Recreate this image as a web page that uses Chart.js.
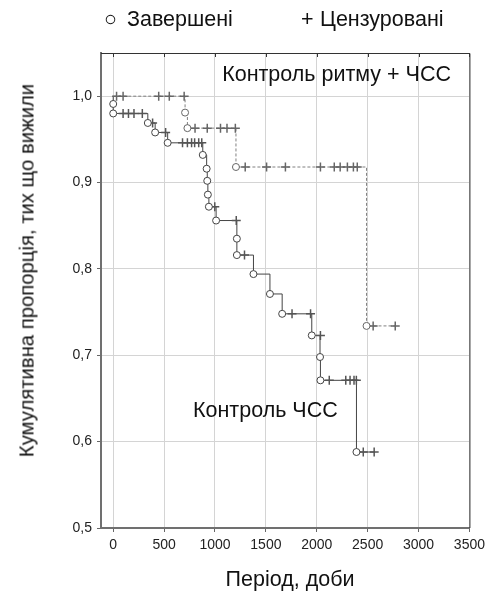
<!DOCTYPE html>
<html>
<head>
  <meta charset="UTF-8">
  <title>Кумулятивна пропорція, тих що вижили</title>
  <script src="https://cdn.jsdelivr.net/npm/chart.js"></script>
  <style>
    body { margin: 0; background: #fff; font-family: "Liberation Sans", Arial, sans-serif; }
    #wrap { position: relative; width: 490px; height: 595px; }
    .lbl { position: absolute; color: #111; white-space: nowrap; line-height: 21px; font-size: 21.5px; }
    #ytitle { left: -173px; top: 260px; width: 400px; text-align: center; font-size: 20.3px;
              transform: rotate(-90deg); }
  </style>
</head>
<body>
  <div id="wrap">
    <canvas id="km" width="490" height="595"></canvas>
    <div class="lbl" style="left:104px; top:9px;">○</div>
    <div class="lbl" style="left:127px; top:9px;">Завершені</div>
    <div class="lbl" style="left:301px; top:9px;">+</div>
    <div class="lbl" style="left:320px; top:9px;">Цензуровані</div>
    <div class="lbl" style="right:39px; top:64px;">Контроль ритму + ЧСС</div>
    <div class="lbl" style="left:193px; top:400px;">Контроль ЧСС</div>
    <div class="lbl" style="left:0; width:580px; text-align:center; top:569px;">Період, доби</div>
    <div class="lbl" id="ytitle">Кумулятивна пропорція, тих що вижили</div>
  </div>

  <script>
    // Axis ticks
    const xTicks = [0, 500, 1000, 1500, 2000, 2500, 3000, 3500];
    const yTicks = [0.5, 0.6, 0.7, 0.8, 0.9, 1.0];

    // "Контроль ритму + ЧСС" group (dashed curve)
    const rhythmEventDays = [706, 729, 1206, 2489];
    const rhythmEventSurv = [0.981, 0.963, 0.918, 0.734];
    const rhythmCensDays = [33, 97, 447, 551, 697, 804, 924, 1054, 1118, 1200,
                            1297, 1507, 1692, 2036, 2172, 2230, 2301, 2360, 2398, 2554, 2771];
    const rhythmCensSurv = [1, 1, 1, 1, 1, 0.963, 0.963, 0.963, 0.963, 0.963,
                            0.918, 0.918, 0.918, 0.918, 0.918, 0.918, 0.918, 0.918, 0.918, 0.734, 0.734];

    // "Контроль ЧСС" group (solid curve)
    const controlEventDays = [0, 0, 340, 412, 535, 880, 918, 924, 930, 940, 1011,
                              1215, 1215, 1378, 1540, 1660, 1951, 2032, 2036, 2390];
    const controlEventSurv = [0.991, 0.980, 0.969, 0.958, 0.946, 0.932, 0.916, 0.902, 0.886, 0.872, 0.856,
                              0.835, 0.816, 0.794, 0.771, 0.748, 0.723, 0.698, 0.671, 0.588];
    const controlCensDays = [97, 150, 204, 286, 387, 515, 681, 729, 770, 800, 840, 870,
                             998, 1209, 1290, 1757, 1939, 2036, 2123, 2285, 2327, 2366, 2389, 2457, 2564];
    const controlCensSurv = [0.980, 0.980, 0.980, 0.980, 0.969, 0.958, 0.946, 0.946, 0.946, 0.946, 0.946, 0.946,
                             0.872, 0.856, 0.816, 0.748, 0.748, 0.723, 0.671, 0.671, 0.671, 0.671, 0.671, 0.588, 0.588];

    // step curve: start at 1.0, each event, then run on to the last censored day
    function stepPoints(evDays, evSurv, censDays) {
      const pts = [{ x: 0, y: 1 }];
      evDays.forEach((d, i) => pts.push({ x: d, y: evSurv[i] }));
      pts.push({ x: censDays[censDays.length - 1], y: evSurv[evSurv.length - 1] });
      return pts;
    }
    function pairs(days, surv) {
      return days.map((d, i) => ({ x: d, y: surv[i] }));
    }

    // frame on top/right plus inward ticks on the top edge
    const framePlugin = {
      id: 'frame',
      afterDraw(chart) {
        const { ctx, chartArea: a, scales } = chart;
        ctx.save();
        ctx.strokeStyle = '#333';
        ctx.lineWidth = 1;
        ctx.beginPath();
        ctx.moveTo(a.left, a.top + 0.5);
        ctx.lineTo(a.right + 0.5, a.top + 0.5);
        ctx.lineTo(a.right + 0.5, a.bottom);
        xTicks.forEach(v => {
          const px = Math.round(scales.x.getPixelForValue(v)) + 0.5;
          ctx.moveTo(px, a.top);
          ctx.lineTo(px, a.top + 4);
        });
        ctx.stroke();
        ctx.restore();
      }
    };

    const tickFont = { family: 'Liberation Sans', size: 14 };

    const ctx = document.getElementById('km').getContext('2d');
    new Chart(ctx, {
      type: 'scatter',
      data: {
        datasets: [
          { type: 'line', data: stepPoints(rhythmEventDays, rhythmEventSurv, rhythmCensDays), stepped: 'before',
            borderColor: '#808080', borderWidth: 1, borderDash: [3, 2], pointRadius: 0, fill: false, order: 4 },
          { type: 'line', data: stepPoints(controlEventDays, controlEventSurv, controlCensDays), stepped: 'before',
            borderColor: '#444', borderWidth: 1, pointRadius: 0, fill: false, order: 3 },
          { data: pairs(rhythmCensDays, rhythmCensSurv), pointStyle: 'cross', pointRadius: 4.5,
            borderColor: '#666', borderWidth: 1.5, order: 2 },
          { data: pairs(controlCensDays, controlCensSurv), pointStyle: 'cross', pointRadius: 4.5,
            borderColor: '#555', borderWidth: 1.5, order: 2 },
          { data: pairs(rhythmEventDays, rhythmEventSurv), pointStyle: 'circle', pointRadius: 3.5,
            backgroundColor: '#fff', borderColor: '#666', borderWidth: 1, order: 1 },
          { data: pairs(controlEventDays, controlEventSurv), pointStyle: 'circle', pointRadius: 3.5,
            backgroundColor: '#fff', borderColor: '#444', borderWidth: 1, order: 1 }
        ]
      },
      options: {
        responsive: false,
        animation: false,
        layout: { padding: { top: 53, right: 17, left: 0, bottom: 0 } },
        plugins: { legend: { display: false }, tooltip: { enabled: false } },
        scales: {
          x: {
            type: 'linear', min: -120, max: 3500,
            afterBuildTicks: s => { s.ticks = xTicks.map(v => ({ value: v })); },
            afterFit: s => { s.height = 67; },
            grid: { color: '#d4d4d4', tickColor: '#666', tickLength: 4 },
            border: { color: '#707070', width: 2 },
            ticks: { color: '#222', font: tickFont, padding: 5, maxRotation: 0, callback: v => String(v) }
          },
          y: {
            type: 'linear', min: 0.5, max: 1.05,
            afterBuildTicks: s => { s.ticks = yTicks.map(v => ({ value: v })); },
            afterFit: s => { s.width = 101; },
            grid: { color: '#d4d4d4', tickColor: '#666', tickLength: 4 },
            border: { color: '#707070', width: 2 },
            ticks: { color: '#222', font: tickFont, padding: 5,
                     callback: v => v.toFixed(1).replace('.', ',') }
          }
        }
      },
      plugins: [framePlugin]
    });
  </script>
</body>
</html>
